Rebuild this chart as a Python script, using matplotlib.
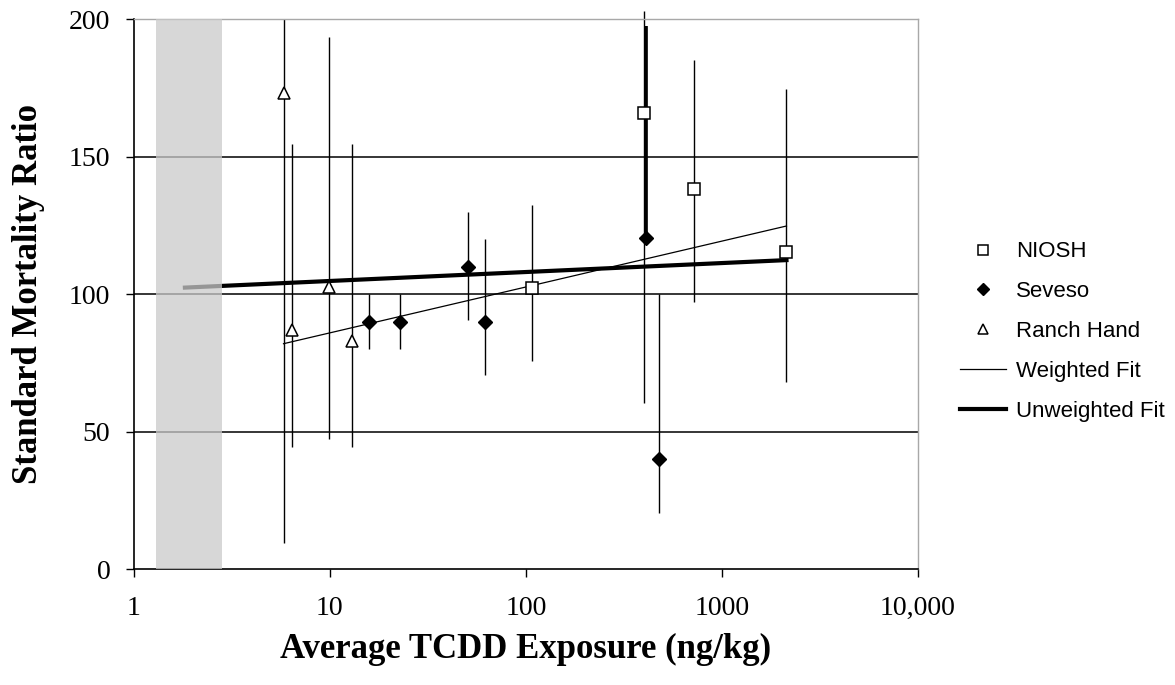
import numpy as np
import matplotlib.pyplot as plt

# NIOSH (open squares)
niosh_x = [108, 400, 720, 2140]
niosh_y = [102.4, 165.8, 138.2, 115.4]
niosh_lo = [75.7, 60.4, 97.2, 68.1]
niosh_hi = [132.4, 203, 185.3, 174.5]

# Seveso (filled diamonds)
sev_x = [15.8, 22.8, 50.4, 61.8, 411, 477]
sev_y = [90, 90, 110, 90, 120.4, 40]
sev_lo = [80, 80, 90.5, 70.5, 120.4, 20.5]
sev_hi = [100, 100, 130, 120, 197.5, 100]

# Ranch Hand (open triangles)
rh_x = [5.8, 6.4, 9.85, 12.9]
rh_y = [173, 87, 102.5, 83]
rh_lo = [9.5, 44.5, 47.3, 44.5]
rh_hi = [200, 154.5, 193.5, 154.5]

# fitted lines (end points)
wfit_x = [5.8, 2140]
wfit_y = [82, 124.8]
ufit_x = [1.82, 2140]
ufit_y = [102.4, 112.4]

shade = (1.3, 2.8)

xticks = [1, 10, 100, 1000, 10000]
xlabels = ["1", "10", "100", "1000", "10,000"]
yticks = [0, 50, 100, 150, 200]

fig = plt.figure(figsize=(11.75, 6.85), dpi=100)
ax = fig.add_axes([0.114, 0.169, 0.667, 0.803])
ax.set_xscale("log")
ax.set_xlim(1, 10000)
ax.set_ylim(0, 200)

for g in [50, 100, 150]:
    ax.axhline(g, color="black", lw=1.1, zorder=1)

def bars(x, y, lo, hi):
    y = np.array(y)
    err = [y - np.array(lo), np.array(hi) - y]
    ax.errorbar(x, y, yerr=err, fmt="none", ecolor="black", elinewidth=1.0,
                capsize=0, zorder=2, clip_on=False)

bars(niosh_x, niosh_y, niosh_lo, niosh_hi)
bars(sev_x, sev_y, sev_lo, sev_hi)
bars(rh_x, rh_y, rh_lo, rh_hi)
ax.vlines(sev_x[4], sev_y[4], sev_hi[4], color="black", lw=2.6, zorder=2)

ax.plot(wfit_x, wfit_y, color="black", lw=0.9, zorder=3, label="Weighted Fit")
ax.plot(ufit_x, ufit_y, color="black", lw=3.0, zorder=3, label="Unweighted Fit")

ax.plot(niosh_x, niosh_y, ls="none", marker="s", ms=8.5, mfc="white",
        mec="black", mew=1.1, zorder=4, label="NIOSH")
ax.plot(sev_x, sev_y, ls="none", marker="D", ms=7.5, mfc="black",
        mec="black", zorder=4, label="Seveso")
ax.plot(rh_x, rh_y, ls="none", marker="^", ms=9, mfc="white",
        mec="black", mew=1.1, zorder=4, label="Ranch Hand")

ax.axvspan(shade[0], shade[1], color="#cacaca", alpha=0.75, lw=0, zorder=5)

ax.set_xticks(xticks)
ax.set_xticklabels(xlabels)
ax.minorticks_off()
ax.set_yticks(yticks)
ax.tick_params(axis="x", direction="out", length=6, width=1, pad=13,
               labelsize=20, labelfontfamily="Liberation Serif")
ax.tick_params(axis="y", direction="out", length=6, width=1, pad=11,
               labelsize=20, labelfontfamily="Liberation Serif")

for s in ["top", "right"]:
    ax.spines[s].set_color("#a8a8a8")
    ax.spines[s].set_linewidth(1.0)
for s in ["left", "bottom"]:
    ax.spines[s].set_color("black")
    ax.spines[s].set_linewidth(1.2)

ax.set_xlabel("Average TCDD Exposure (ng/kg)", family="Liberation Serif",
              weight="bold", fontsize=25, labelpad=9)
ax.set_ylabel("Standard Mortality Ratio", family="Liberation Serif",
              weight="bold", fontsize=25, labelpad=17)

handles, labels = ax.get_legend_handles_labels()
order = [labels.index(n) for n in ["NIOSH", "Seveso", "Ranch Hand",
                                    "Weighted Fit", "Unweighted Fit"]]
leg = ax.legend([handles[i] for i in order], [labels[i] for i in order],
                loc="center left", bbox_to_anchor=(1.028, 0.432), frameon=False,
                prop={"family": "Liberation Sans", "size": 16},
                handlelength=2.1, labelspacing=0.85, markerscale=0.8,
                handletextpad=0.45)

fig.savefig("out.png", dpi=100)
